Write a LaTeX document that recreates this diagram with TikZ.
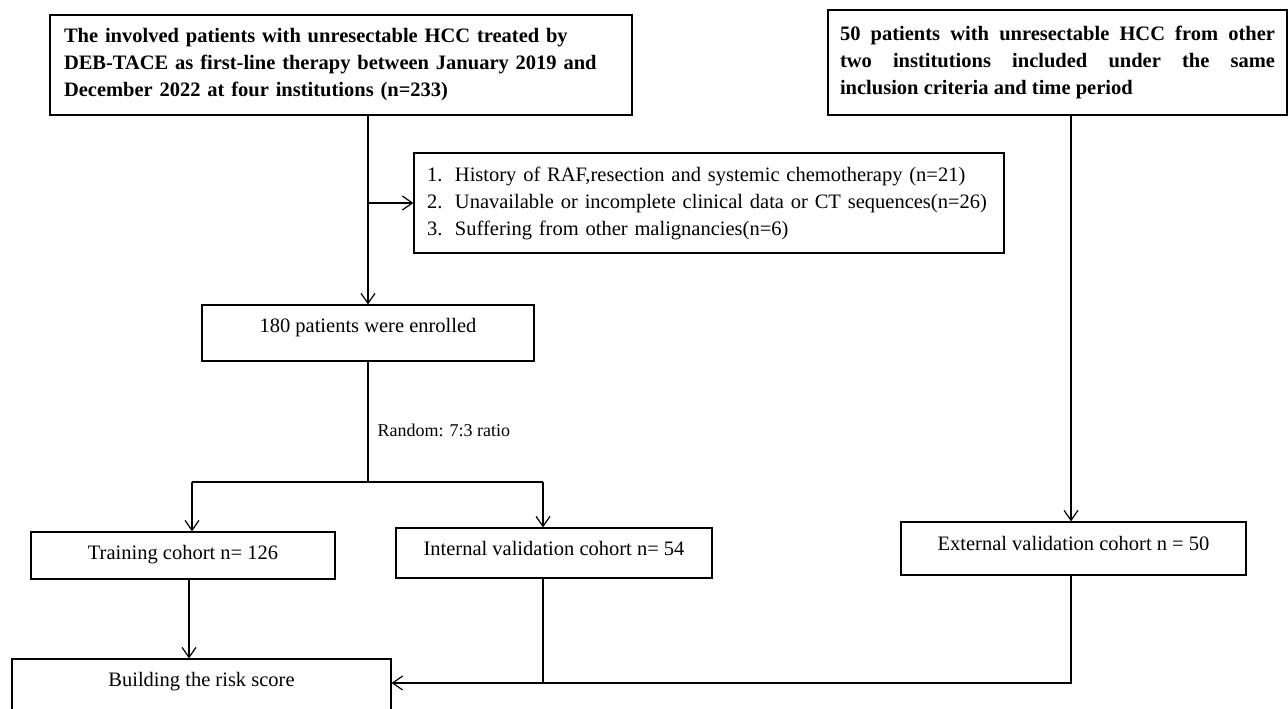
\documentclass[tikz,border=0pt]{standalone}
\usepackage{fontspec}
\setmainfont{Liberation Serif}
\usetikzlibrary{arrows.meta}
\begin{document}
\begin{tikzpicture}[x=1pt,y=-1pt,
  >={Straight Barb[length=10pt,width=14pt]},
  line width=1.2pt,
  box/.style={draw, line width=1.2pt, inner sep=0pt, font=\fontsize{20.5}{27}\selectfont},
  one/.style={text height=13pt, text depth=#1}]
\useasboundingbox (0,0) rectangle (1288,709);

\node[box, font=\fontsize{20.5}{27}\selectfont\bfseries, minimum width=582pt, minimum height=100pt,
  text width=554pt, align=left] (tl) at (341,65)
  {The involved patients with unresectable HCC treated by\\
   DEB-TACE as first-line therapy between January 2019 and\\
   December 2022 at four institutions (n=233)};

\node[box, font=\fontsize{20.5}{27}\selectfont\bfseries, minimum width=459pt, minimum height=105pt,
  text width=435pt, align=justify] (tr) at (1057.5,62.5)
  {50 patients with unresectable HCC from other\linebreak
   two institutions included under the same\linebreak
   inclusion criteria and time period\par\vspace{6pt}};

\node[box, minimum width=590pt, minimum height=100pt, text width=576pt, align=left] (ex) at (709,203)
  {\makebox[34pt][l]{\hspace*{6pt}1.}History of RAF,resection and systemic chemotherapy (n=21)\\
   \makebox[34pt][l]{\hspace*{6pt}2.}Unavailable or incomplete clinical data or CT sequences(n=26)\\
   \makebox[34pt][l]{\hspace*{6pt}3.}Suffering from other malignancies(n=6)};

\node[box, one=13.4pt, minimum width=332pt, minimum height=56pt] (en) at (368,333) {180 patients were enrolled};

\node[font=\fontsize{18}{20}\selectfont, anchor=west, inner sep=0pt] (rl) at (377,430) {Random: 7:3 ratio};

\node[box, one=4.4pt, minimum width=304pt, minimum height=47pt] (trn) at (183,555.5) {Training cohort n= 126};
\node[box, one=7.4pt, minimum width=316pt, minimum height=50pt] (int) at (554,553) {Internal validation cohort n= 54};
\node[box, one=8.4pt, minimum width=345pt, minimum height=53pt] (ext) at (1073.5,548.5) {External validation cohort n = 50};
\node[box, one=13.4pt, minimum width=379pt, minimum height=56pt] (bd) at (201.5,687) {Building the risk score};

\coordinate (sl) at (192,482);
\coordinate (sr) at (543,482);
\coordinate (tb) at (189,600);
\coordinate (jn) at (1071,683);

\draw[->] (en.north |- tl.south) -- (en.north);
\draw[->] (en.north |- ex.west) -- (ex.west);
\draw (en.south) -- (en.south |- sl);
\draw (sl) -- (sr);
\draw[->] (sl) -- (sl |- trn.north);
\draw[->] (sr) -- (sr |- int.north);
\draw[->] (tb |- trn.south) -- (tb |- bd.north);
\draw (sr |- int.south) -- (sr |- jn);
\draw[->] (jn |- tr.south) -- (jn |- ext.north);
\draw[->] (jn |- ext.south) -- (jn) -- (jn -| bd.east);
\end{tikzpicture}
\end{document}
